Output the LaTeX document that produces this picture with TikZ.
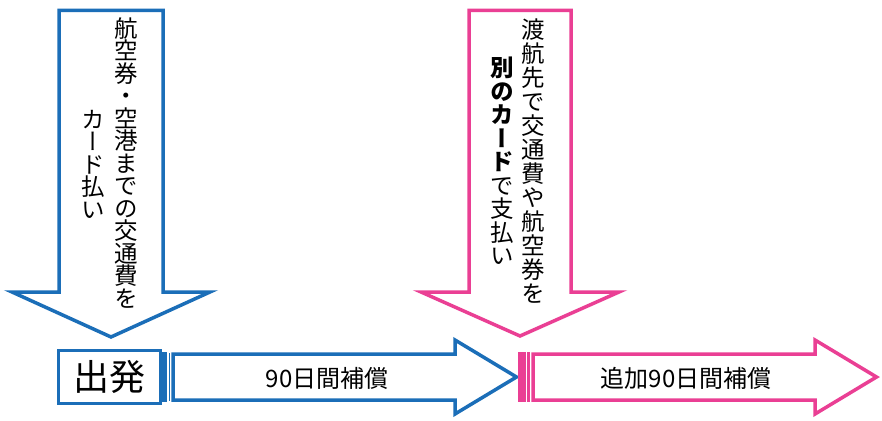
\documentclass[tikz,border=0pt]{standalone}
\usepackage{fontspec}
\setmainfont{Noto Sans CJK JP}
\newfontfamily\jp{Noto Sans CJK JP}
\newfontfamily\jpv[RawFeature=+vert]{Noto Sans CJK JP}
\definecolor{blueC}{HTML}{1B6EB8}
\definecolor{pinkC}{HTML}{EA3F94}
\begin{document}
\begin{tikzpicture}[x=1pt,y=-1pt,
  bluearrow/.style={draw=blueC, line width=3.5pt, fill=white, line join=miter},
  pinkarrow/.style={draw=pinkC, line width=3.5pt, fill=white, line join=miter},
  vtext/.style={align=center, inner sep=0pt, text=black},
  htext/.style={inner sep=0pt, text=black, font=\jp\fontsize{24}{24}\selectfont}]
\useasboundingbox[fill=white] (0,0) rectangle (882,420);

% down arrows
\draw[bluearrow] (59,10.5) -- (163,10.5) -- (163,292) -- (210,292) -- (111,337) -- (12,292) -- (59,292) -- cycle;
\draw[pinkarrow] (469,10.5) -- (571,10.5) -- (571,292) -- (619,292) -- (520,336) -- (421,292) -- (469,292) -- cycle;

% right arrows
\draw[bluearrow] (173,354) -- (455,354) -- (455,340) -- (516.5,377) -- (455,414) -- (455,400) -- (173,400) -- cycle;
\fill[blueC] (161,352) rectangle (167,402);
\draw[blueC, line width=1.2pt] (169.5,353) -- (169.5,401);

\draw[pinkarrow] (533,354) -- (815,354) -- (815,340) -- (876.5,377) -- (815,414) -- (815,400) -- (533,400) -- cycle;
\fill[pinkC] (518,352) rectangle (526,402);
\fill[pinkC] (527,352) rectangle (530,402);

% departure box
\node[draw=blueC, line width=3.5pt, fill=white, minimum width=102pt, minimum height=53pt, inner sep=0pt,
  font=\jp\fontsize{36}{36}\selectfont] (dep) at (109.5,377) {出発};

% vertical texts
\node[vtext, font=\jpv\fontsize{23.5}{22.5}\selectfont] (b1) at (126,163)
  {航\\空\\券\\・\\空\\港\\ま\\で\\の\\交\\通\\費\\を};
\node[vtext, font=\jpv\fontsize{23.5}{22.5}\selectfont] (b2) at (93,164)
  {カ\\ー\\ド\\払\\い};
\node[vtext, font=\jpv\fontsize{23.5}{24}\selectfont] (p1) at (533,161)
  {渡\\航\\先\\で\\交\\通\\費\\や\\航\\空\\券\\を};
\node[vtext, font=\jpv\fontsize{23.5}{23.5}\selectfont] (p2) at (502,161)
  {\textbf{別}\\\textbf{の}\\\textbf{カ}\\\textbf{ー}\\\textbf{ド}\\で\\支\\払\\い};

% horizontal labels
\node[htext] (t1) at (327,378) {90日間補償};
\node[htext] (t2) at (686,378) {追加90日間補償};
\end{tikzpicture}
\end{document}
